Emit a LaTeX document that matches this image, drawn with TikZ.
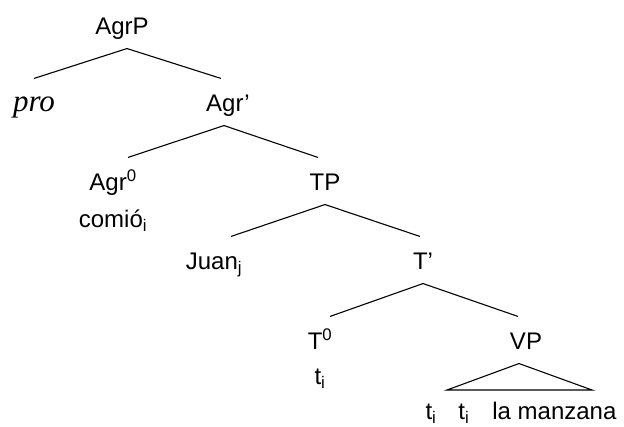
\documentclass[tikz,border=0pt]{standalone}
\usepackage{fontspec}
\setmainfont{Liberation Sans}
\newfontfamily\timesfont{Liberation Serif}
\usetikzlibrary{positioning}

\begin{document}
\begin{tikzpicture}[x=1pt,y=-1pt,line width=1.1pt,node distance=37pt,
    cat/.style={anchor=base, inner xsep=0pt, inner ysep=11pt, text height=22pt, text depth=2pt, font=\fontsize{24}{28}\selectfont}]
  \useasboundingbox (0,0) rectangle (624,427);
  \node[cat] (agrp) at (122,35) {AgrP};
  \node[cat, font=\fontsize{31}{34}\timesfont\itshape] (pro) at (34,112) {pro};
  \node[cat] (agrbar) at (228,112) {Agr’};
  \node[cat] (agr0) at (113,191) {Agr\textsuperscript{0}};
  \node[cat, below of=agr0] (comio) {comió\textsubscript{i}};
  \node[cat] (tp) at (325,191) {TP};
  \node[cat] (juan) at (214,270) {Juan\textsubscript{j}};
  \node[cat] (tbar) at (423,270) {T’};
  \node[cat] (t0) at (320,350) {T\textsuperscript{0}};
  \node[cat, below of=t0, node distance=35pt] (ti) {t\textsubscript{i}};
  \node[cat] (vp) at (526,350) {VP};
  \node[cat, anchor=base west] (leaves) at (425,420) {t\textsubscript{i}\hspace{22pt}t\textsubscript{i}\hspace{23pt}la manzana};
  \coordinate (vpl) at (447,390);
  \coordinate (vpr) at (592,390);

  \draw ([xshift=5pt]agrp.south) -- (pro.north);
  \draw ([xshift=5pt]agrp.south) -- ([xshift=-7pt]agrbar.north);
  \draw ([xshift=-4pt]agrbar.south) -- ([xshift=15pt]agr0.north);
  \draw ([xshift=-4pt]agrbar.south) -- ([xshift=-7pt]tp.north);
  \draw (tp.south) -- ([xshift=17pt]juan.north);
  \draw (tp.south) -- ([xshift=-3pt]tbar.north);
  \draw (tbar.south) -- ([xshift=10pt]t0.north);
  \draw (tbar.south) -- ([xshift=-8pt]vp.north);
  \draw ([xshift=-7pt]vp.south) -- (vpl) -- (vpr) -- cycle;
\end{tikzpicture}
\end{document}
